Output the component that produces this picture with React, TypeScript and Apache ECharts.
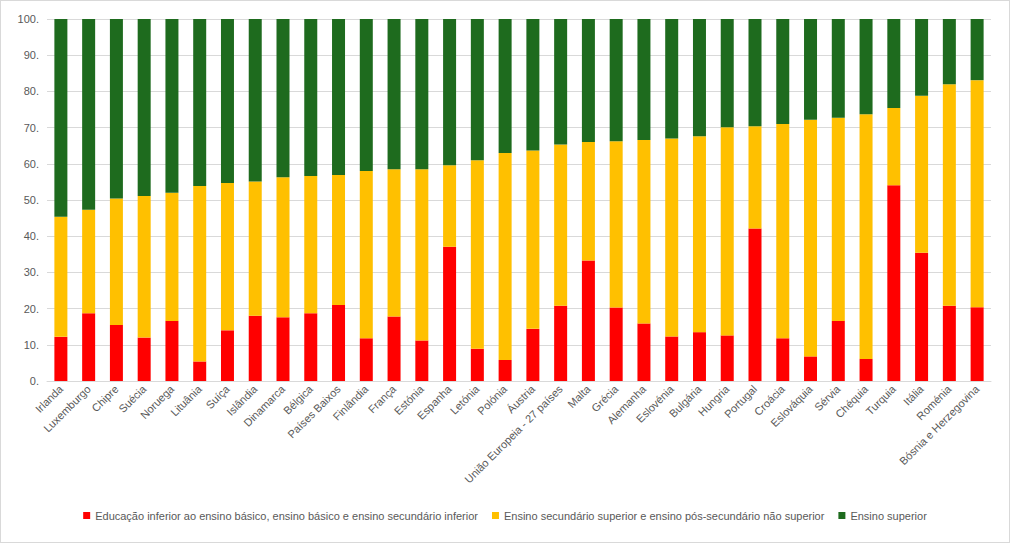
import { useEffect, useRef } from 'react';
import * as echarts from 'echarts';

const countries = ['Irlanda', 'Luxemburgo', 'Chipre', 'Suécia', 'Noruega', 'Lituânia', 'Suíça', 'Islândia', 'Dinamarca', 'Bélgica', 'Países Baixos', 'Finlândia', 'França', 'Estónia', 'Espanha', 'Letónia', 'Polónia', 'Áustria', 'União Europeia - 27 países', 'Malta', 'Grécia', 'Alemanha', 'Eslovénia', 'Bulgária', 'Hungria', 'Portugal', 'Croácia', 'Eslováquia', 'Sérvia', 'Chéquia', 'Turquia', 'Itália', 'Roménia', 'Bósnia e Herzegovina'];

const basic = [12.2, 18.7, 15.5, 12.0, 16.6, 5.4, 14.0, 18.0, 17.6, 18.7, 21.0, 11.8, 17.8, 11.2, 37.1, 8.9, 5.8, 14.4, 20.8, 33.3, 20.3, 15.9, 12.3, 13.5, 12.6, 42.1, 11.8, 6.8, 16.6, 6.1, 54.1, 35.4, 20.8, 20.4];
const secondary = [33.2, 28.6, 34.9, 39.1, 35.4, 48.5, 40.7, 37.1, 38.7, 37.9, 35.9, 46.2, 40.7, 47.3, 22.5, 52.1, 57.2, 49.3, 44.5, 32.7, 45.9, 50.7, 54.7, 54.1, 57.5, 28.3, 59.2, 65.4, 56.1, 67.6, 21.3, 43.4, 61.2, 62.7];
const tertiary = [54.6, 52.7, 49.6, 48.9, 48.0, 46.1, 45.3, 44.9, 43.7, 43.4, 43.1, 42.0, 41.5, 41.5, 40.4, 39.0, 37.0, 36.3, 34.7, 34.0, 33.8, 33.4, 33.0, 32.4, 29.9, 29.6, 29.0, 27.8, 27.3, 26.3, 24.6, 21.2, 18.0, 16.9];

const seriesNames = [
  'Educação inferior ao ensino básico, ensino básico e ensino secundário inferior',
  'Ensino secundário superior e ensino pós-secundário não superior',
  'Ensino superior',
];
const colors = ['#ff0000', '#ffc000', '#1e6b1e'];

export default function App() {
  const chartRef = useRef<HTMLDivElement>(null);

  useEffect(() => {
    if (!chartRef.current) return;
    const chart = echarts.init(chartRef.current, undefined, { renderer: 'svg' });
    const font = 'Liberation Sans, Arial, sans-serif';
    chart.setOption({
      animation: false,
      textStyle: { fontFamily: font },
      grid: { left: 46, right: 18, top: 18, bottom: 161 },
      legend: {
        bottom: 16,
        itemWidth: 7,
        itemHeight: 7,
        itemGap: 14,
        icon: 'rect',
        textStyle: { color: '#595959', fontSize: 11, fontFamily: font },
      },
      xAxis: {
        type: 'category',
        data: countries,
        axisTick: { show: false },
        axisLine: { lineStyle: { color: '#d9d9d9' } },
        axisLabel: { rotate: 45, color: '#595959', fontSize: 11, interval: 0, margin: 6 },
      },
      yAxis: {
        type: 'value',
        min: 0,
        max: 100,
        interval: 10,
        axisLabel: { color: '#595959', fontSize: 11, formatter: (v: number) => `${v}.` },
        splitLine: { lineStyle: { color: '#d9d9d9' } },
      },
      series: [basic, secondary, tertiary].map((d, i) => ({
        name: seriesNames[i],
        type: 'bar',
        stack: 'total',
        barWidth: 13,
        data: d,
        itemStyle: { color: colors[i] },
      })),
    });
    return () => chart.dispose();
  }, []);

  return (
    <div
      ref={chartRef}
      style={{ position: 'fixed', left: 0, top: 0, width: 1010, height: 543, boxSizing: 'border-box', border: '1px solid #d9d9d9', background: '#fff' }}
    />
  );
}
